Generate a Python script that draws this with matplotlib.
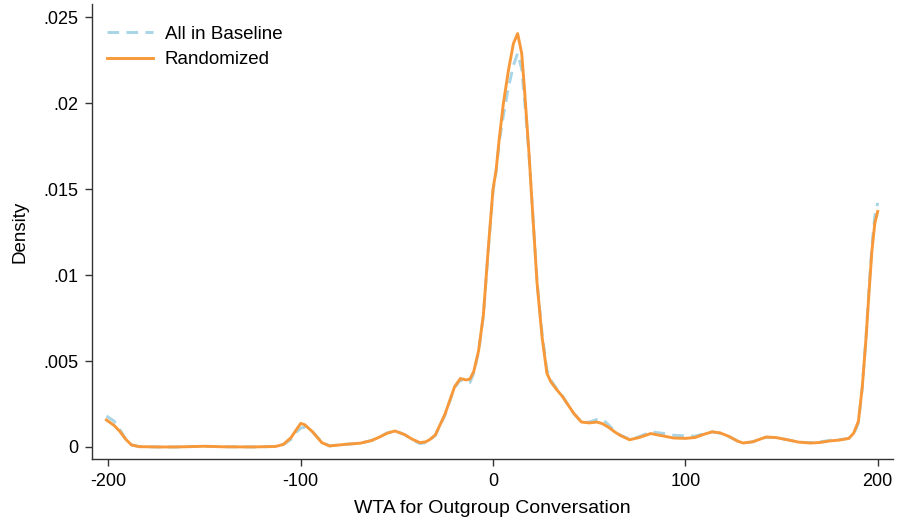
import numpy as np
import matplotlib.pyplot as plt

plt.rcParams['font.family'] = ['Liberation Sans', 'DejaVu Sans']

# WTA values (shared grid for both kernel density curves)
wta = [-201, -197, -194, -191, -188, -184, -175, -165, -150, -140, -125,
       -113, -109, -105, -102, -100, -98, -94, -89, -85, -77, -69, -63,
       -59, -55, -51, -46, -42, -38, -35, -33, -30, -27.5, -25, -22.5,
       -20, -17, -14, -12, -10, -7.5, -5, -2.5, 0, 1.6, 3.3, 5.4, 8, 10.6,
       12.8, 14.9, 16.3, 17.5, 18.7, 20.1, 22.9, 25.5, 28, 30, 33, 36, 39,
       42, 46, 50, 54, 57, 60, 63, 66, 71, 76, 82, 88, 94, 100, 105, 110,
       114, 118, 123, 127, 130, 135, 142, 147, 153, 159, 165, 170, 175,
       180, 185, 187.5, 190, 192, 194, 195.5, 197, 198.5, 200]

dens_random = [.00157, .00125, .00090, .00045, .00012, .00002, .0, .0,
               .00004, .00001, .0, .00003, .00015, .00055, .00105, .00137,
               .00130, .00090, .00025, .00006, .00015, .00022, .00038,
               .00058, .00080, .00093, .00072, .00045, .00025, .00030,
               .00042, .00070, .00130, .00190, .00270, .00350, .00398,
               .00390, .00395, .00440, .00560, .00770, .01150, .01500,
               .01610, .01800, .02000, .02190, .02347, .02405, .02290,
               .02090, .01900, .01710, .01453, .00953, .00640, .00430,
               .00380, .00335, .00295, .00245, .00195, .00145, .00140,
               .00145, .00135, .00115, .00090, .00068, .00042, .00055,
               .00078, .00065, .00052, .00050, .00055, .00075, .00088,
               .00082, .00060, .00035, .00023, .00030, .00058, .00055,
               .00042, .00028, .00023, .00026, .00035, .00040, .00050,
               .00080, .00150, .00350, .00640, .00900, .01140, .01300,
               .01370]

dens_baseline = [.00180, .00150, .00100, .00048, .00012, .00002, .0, .0,
                 .00004, .00001, .0, .00003, .00014, .00045, .00090, .00110,
                 .00115, .00090, .00028, .00006, .00015, .00022, .00038,
                 .00058, .00082, .00095, .00072, .00042, .00020, .00025,
                 .00038, .00068, .00125, .00185, .00265, .00345, .00390,
                 .00370, .00375, .00430, .00555, .00765, .01140, .01490,
                 .01600, .01780, .01930, .02090, .02220, .02290, .02200,
                 .02030, .01870, .01700, .01450, .00960, .00660, .00450,
                 .00390, .00340, .00298, .00245, .00195, .00145, .00145,
                 .00160, .00160, .00130, .00095, .00070, .00045, .00060,
                 .00088, .00080, .00068, .00065, .00063, .00078, .00088,
                 .00080, .00058, .00035, .00023, .00030, .00056, .00054,
                 .00042, .00028, .00025, .00030, .00038, .00042, .00050,
                 .00075, .00140, .00345, .00650, .00920, .01170, .01340,
                 .01420]

yticks = [0, .005, .01, .015, .02, .025]
ytick_labels = ['0', '.005', '.01', '.015', '.02', '.025']
xticks = [-200, -100, 0, 100, 200]

fig = plt.figure(figsize=(8.97, 5.21), dpi=100)
ax = fig.add_axes([0.1026, 0.119, 0.893, 0.873])

ax.plot(wta, dens_baseline, color='#a8d5e5', lw=2.1, ls=(0, (4, 2.5)),
        label='All in Baseline')
ax.plot(wta, dens_random, color='#f7993a', lw=2.1, label='Randomized')

ax.set_xlim(-208.5, 208)
ax.set_ylim(-0.0007, 0.02576)
ax.set_xticks(xticks)
ax.set_xticklabels([str(t) for t in xticks])
ax.set_yticks(yticks)
ax.set_yticklabels(ytick_labels)
ax.tick_params(labelsize=13, length=5, width=1, color='#333333',
               direction='out', pad=5)

for side in ['top', 'right']:
    ax.spines[side].set_visible(False)
for side in ['left', 'bottom']:
    ax.spines[side].set_color('#333333')
    ax.spines[side].set_linewidth(1)

ax.set_xlabel('WTA for Outgroup Conversation', fontsize=14, labelpad=7)
ax.set_ylabel('Density', fontsize=13.5)
ax.yaxis.set_label_coords(-0.079, 0.5)

ax.legend(loc='upper left', bbox_to_anchor=(-0.003, 0.99), frameon=False,
          fontsize=13.5, handlelength=2.5, handletextpad=0.6,
          labelspacing=0.45)

fig.savefig('out.png', dpi=100)
